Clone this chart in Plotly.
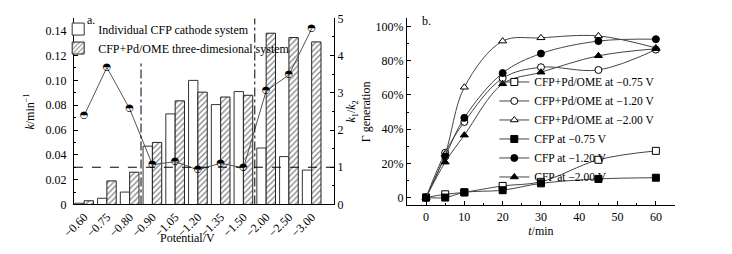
import plotly.graph_objects as go

# ---------------- data: panel a ----------------
potentials = ["−0.60", "−0.75", "−0.80", "−0.90", "−1.05", "−1.20",
              "−1.35", "−1.50", "−2.00", "−2.50", "−3.00"]
k_individual = [0.001, 0.005, 0.010, 0.047, 0.073, 0.100, 0.0805, 0.091, 0.0455, 0.0386, 0.0277]
k_three_dim = [0.003, 0.019, 0.026, 0.050, 0.0835, 0.0905, 0.0866, 0.088, 0.138, 0.1345, 0.131]
k_ratio = [2.39, 3.68, 2.57, 1.07, 1.15, 0.93, 1.11, 0.98, 3.05, 3.48, 4.72]
ratio_reference = 1.0
divider_positions = [2.5, 7.5]
divider_tops = [0.115, 0.15]

# ---------------- data: panel b ----------------
t_min = [0, 5, 10, 20, 30, 45, 60]
series_names = ["CFP+Pd/OME at −0.75 V", "CFP+Pd/OME at −1.20 V", "CFP+Pd/OME at −2.00 V",
                "CFP at −0.75 V", "CFP at −1.20 V", "CFP at −2.00 V"]
gen_pd_075 = [0, 0.019, 0.031, 0.068, 0.092, 0.221, 0.273]
gen_pd_120 = [0, 0.262, 0.442, 0.698, 0.762, 0.746, 0.865]
gen_pd_200 = [0, 0.255, 0.645, 0.915, 0.934, 0.945, 0.875]
gen_cfp_075 = [0, 0.0, 0.030, 0.043, 0.083, 0.109, 0.116]
gen_cfp_120 = [0, 0.240, 0.466, 0.728, 0.842, 0.915, 0.926]
gen_cfp_200 = [0, 0.207, 0.365, 0.665, 0.733, 0.829, 0.870]
series_values = [gen_pd_075, gen_pd_120, gen_pd_200, gen_cfp_075, gen_cfp_120, gen_cfp_200]
series_symbols = ["square", "circle", "triangle-up", "square", "circle", "triangle-up"]
series_fills = ["white", "white", "white", "black", "black", "black"]

FONT = "Liberation Serif"
W, H = 732, 254


def fx(a):
    return a / W


def fy(y):
    return 1 - y / H


def px_x(a, b):
    return [fx(a), fx(b)]


def px_y(top, bottom):
    return [fy(bottom), fy(top)]


fig = go.Figure()

# panel a bars
fig.add_trace(go.Bar(
    x=potentials, y=k_individual, name="Individual CFP cathode system",
    marker=dict(color="white", line=dict(color="#333", width=1)),
    xaxis="x", yaxis="y", legend="legend"))
fig.add_trace(go.Bar(
    x=potentials, y=k_three_dim, name="CFP+Pd/OME three-dimesional system",
    marker=dict(color="white", line=dict(color="#222", width=1),
                pattern=dict(shape="/", fgcolor="black", size=4, solidity=0.3)),
    xaxis="x", yaxis="y", legend="legend"))
# k1/k2 line
fig.add_trace(go.Scatter(
    x=potentials, y=k_ratio, mode="lines+text", text=["◓"] * len(k_ratio),
    textposition="middle center", textfont=dict(family="DejaVu Sans", size=10, color="black"),
    line=dict(color="#555", width=1), showlegend=False,
    xaxis="x", yaxis="y2"))

# panel b lines
for name, vals, sym, fill in zip(series_names, series_values, series_symbols, series_fills):
    fig.add_trace(go.Scatter(
        x=t_min, y=vals, name=name, mode="lines+markers",
        line=dict(color="#444", width=1, shape="spline", smoothing=1.0),
        marker=dict(symbol=sym, size=7, color=fill, line=dict(color="black", width=1)),
        xaxis="x3", yaxis="y3", legend="legend2"))

shapes = [dict(type="line", xref="x domain", yref="y2", x0=0, x1=1,
               y0=ratio_reference, y1=ratio_reference,
               line=dict(color="black", width=1, dash="dash"))]
for xp, top in zip(divider_positions, divider_tops):
    shapes.append(dict(type="line", xref="x", yref="y", x0=xp, x1=xp, y0=0, y1=top,
                       line=dict(color="black", width=1, dash="dashdot")))

axis_common = dict(showline=True, linecolor="black", linewidth=1, showgrid=False,
                   zeroline=False, tickfont=dict(family=FONT, size=12, color="black"),
                   tickcolor="black")

fig.update_layout(
    width=W, height=H, margin=dict(l=0, r=0, t=0, b=0),
    paper_bgcolor="white", plot_bgcolor="rgba(0,0,0,0)",
    font=dict(family=FONT, size=12, color="black"),
    barmode="group", bargap=0.18, bargroupgap=0.0,
    shapes=shapes,
    xaxis=dict(domain=px_x(62, 327), anchor="y", type="category",
               range=[-0.45, 10.99], tickangle=-45, ticks="",
               **axis_common),
    yaxis=dict(domain=px_y(12, 209), anchor="x", range=[0, 0.15],
               tickvals=[0, 0.02, 0.04, 0.06, 0.08, 0.10, 0.12, 0.14],
               ticktext=["0", "0.02", "0.04", "0.06", "0.08", "0.10", "0.12", "0.14"],
               ticks="inside", ticklen=4, ticklabelstandoff=4,
               minor=dict(ticks="inside", ticklen=2, dtick=0.01, tickcolor="black"),
               title=dict(text="<i>k</i>/min<sup>−1</sup>", font=dict(family=FONT, size=12), standoff=8),
               **axis_common),
    yaxis2=dict(overlaying="y", side="right", anchor="x", range=[0, 5],
                tickvals=[0, 1, 2, 3, 4, 5], ticks="inside", ticklen=4,
                minor=dict(ticks="inside", ticklen=2, dtick=0.5, tickcolor="black"),
                title=dict(text="<i>k</i><sub>1</sub>/<i>k</i><sub>2</sub>", font=dict(family=FONT, size=12), standoff=4),
                **axis_common),
    xaxis3=dict(domain=px_x(401, 674), anchor="y3", range=[-5, 65],
                tickvals=[0, 10, 20, 30, 40, 50, 60], ticks="inside", ticklen=4,
                minor=dict(ticks="inside", ticklen=2, dtick=5, tickcolor="black"),
                title=dict(text="<i>t</i>/min", font=dict(family=FONT, size=12), standoff=2),
                **axis_common),
    yaxis3=dict(domain=px_y(12, 210), anchor="x3", range=[-0.046, 1.048],
                tickvals=[0, 0.2, 0.4, 0.6, 0.8, 1.0],
                ticktext=["0", "20%", "40%", "60%", "80%", "100%"],
                ticks="inside", ticklen=4,
                minor=dict(ticks="inside", ticklen=2, dtick=0.1, tickcolor="black"),
                title=dict(text="Γ generation", font=dict(family=FONT, size=12), standoff=2),
                **axis_common),
    legend=dict(x=fx(46), y=fy(8), xanchor="left", yanchor="top",
                bgcolor="rgba(0,0,0,0)", font=dict(family=FONT, size=12),
                tracegroupgap=0, itemwidth=30),
    legend2=dict(x=fx(490), y=fy(64), xanchor="left", yanchor="top",
                 bgcolor="rgba(0,0,0,0)", font=dict(family=FONT, size=11.5),
                 tracegroupgap=0, itemwidth=30),
    annotations=[
        dict(text="a.", x=fx(73), y=fy(14), xref="paper", yref="paper",
             showarrow=False, xanchor="left", yanchor="middle", font=dict(family=FONT, size=12)),
        dict(text="b.", x=fx(414), y=fy(15), xref="paper", yref="paper",
             showarrow=False, xanchor="left", yanchor="middle", font=dict(family=FONT, size=12)),
        dict(text="Potential/V", x=fx(178), y=fy(245), xref="paper", yref="paper",
             showarrow=False, xanchor="center", yanchor="middle", font=dict(family=FONT, size=12)),
    ],
)

fig.write_html("out.html", config={"displayModeBar": False},
               post_script="document.body.style.margin='0';document.body.style.overflow='hidden';")
